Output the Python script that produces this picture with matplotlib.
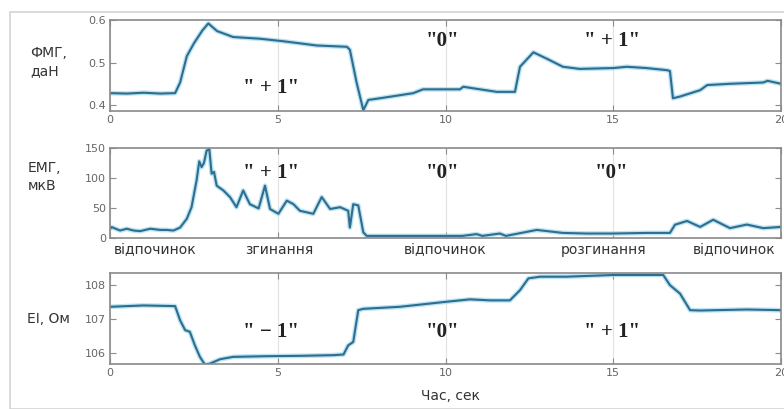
import numpy as np
import matplotlib.pyplot as plt
from matplotlib.patches import Rectangle

# %% дані
t_fmg = [0, 0.5, 1.0, 1.5, 1.94, 2.09, 2.29, 2.5, 2.75, 2.93, 3.19, 3.67, 4.47, 5.17, 6.17,
         7.06, 7.15, 7.35, 7.55, 7.7, 8.05, 9.04, 9.33, 10.43, 10.53, 11.03, 11.53, 12.07,
         12.22, 12.62, 13.02, 13.5, 14.0, 15.0, 15.4, 15.99, 16.6, 16.69, 16.78, 16.99,
         17.59, 17.8, 18.48, 19.47, 19.6, 20.0]
fmg = [0.428, 0.427, 0.429, 0.427, 0.428, 0.453, 0.515, 0.545, 0.575, 0.592, 0.574, 0.56,
       0.556, 0.55, 0.54, 0.537, 0.53, 0.453, 0.388, 0.412, 0.416, 0.428, 0.437, 0.437,
       0.443, 0.437, 0.431, 0.431, 0.49, 0.524, 0.509, 0.49, 0.485, 0.487, 0.49, 0.487,
       0.482, 0.48, 0.416, 0.42, 0.435, 0.447, 0.45, 0.453, 0.457, 0.45]

t_emg = [0, 0.05, 0.3, 0.5, 0.7, 0.9, 1.2, 1.5, 1.69, 1.89, 2.09, 2.29, 2.43, 2.58, 2.66,
         2.73, 2.8, 2.88, 2.96, 3.03, 3.1, 3.18, 3.38, 3.58, 3.77, 3.97, 4.17, 4.43, 4.62,
         4.77, 5.02, 5.27, 5.47, 5.66, 6.06, 6.31, 6.56, 6.86, 7.1, 7.15, 7.25, 7.4, 7.55,
         7.65, 8.5, 9.5, 10.5, 10.93, 11.1, 11.62, 11.8, 12.72, 13.5, 14.2, 15.0, 16.0,
         16.69, 16.84, 17.2, 17.59, 17.98, 18.48, 18.98, 19.47, 20.0]
emg = [15, 17.7, 12, 15, 12, 11, 15, 13, 13, 12, 17, 31.7, 51, 95.5, 127.7, 118, 125, 145.5,
       148, 107, 110, 87, 79, 67.7, 51, 79, 56, 49, 87, 48, 40, 62, 56, 45, 40, 68, 48, 51,
       45, 17, 56, 54, 9, 3, 3, 3, 3, 6, 3, 7, 3, 13, 8, 7, 7, 8, 8, 21.7, 28, 18, 30, 16,
       22, 16, 18]

t_ei = [0, 1.0, 1.94, 2.09, 2.24, 2.38, 2.53, 2.68, 2.83, 2.98, 3.28, 3.67, 4.67, 5.66,
        6.66, 6.96, 7.1, 7.25, 7.4, 7.55, 8.64, 10.04, 10.73, 11.33, 11.92, 12.22, 12.47,
        12.82, 13.6, 15.0, 16.0, 16.49, 16.69, 16.99, 17.29, 17.59, 18.98, 20.0]
ei = [107.36, 107.4, 107.38, 106.96, 106.67, 106.62, 106.22, 105.88, 105.65, 105.68, 105.81,
      105.88, 105.9, 105.91, 105.93, 105.95, 106.22, 106.32, 107.26, 107.3, 107.36, 107.51,
      107.58, 107.55, 107.55, 107.85, 108.2, 108.25, 108.25, 108.3, 108.3, 108.3, 108.0,
      107.75, 107.26, 107.25, 107.28, 107.26]

xticks = [0, 5, 10, 15, 20]
phases = ["відпочинок", "згинання", "відпочинок", "розгинання", "відпочинок"]
phase_x = [1.35, 5.05, 10.0, 14.7, 18.6]
marks_fmg = ['" + 1"', '"0"', '" + 1"']
marks_emg = ['" + 1"', '"0"', '"0"']
marks_ei = ['" − 1"', '"0"', '" + 1"']
marks_x = [4.8, 9.9, 14.95]

# %% рисунок
W, H = 784, 409
fig = plt.figure(figsize=(W / 100, H / 100), dpi=100)
fig.patches.append(Rectangle((9.5 / W, 0), 1, 1 - 12 / H, transform=fig.transFigure,
                             fill=False, edgecolor="#d4d4d4", lw=1.2))

left, right = 110 / W, 781 / W


def make_ax(top_px, bot_px):
    ax = fig.add_axes([left, 1 - bot_px / H, right - left, (bot_px - top_px) / H])
    ax.set_xlim(0, 20)
    ax.set_xticks(xticks)
    for s in ax.spines.values():
        s.set_color("#8a8a8a")
        s.set_linewidth(1.2)
    ax.tick_params(direction="in", top=True, right=True, length=4, color="#8a8a8a",
                   labelsize=8, labelcolor="#666666", pad=3)
    ax.grid(axis="x", color="#e2e2e2", lw=0.8)
    return ax


def draw(ax, t, v):
    ax.plot(t, v, color="#a9dcf0", lw=3.4, alpha=0.8, solid_joinstyle="round")
    ax.plot(t, v, color="#2f6d8e", lw=1.5)


serif = dict(family="Liberation Serif", fontweight="bold", fontsize=15, ha="center",
             va="center", color="#222222")
lab = dict(family="DejaVu Sans", fontsize=10, color="#333333")

ax1 = make_ax(20, 111)
draw(ax1, t_fmg, fmg)
ax1.set_ylim(0.386, 0.6)
ax1.set_yticks([0.4, 0.5, 0.6])
ax1.set_yticklabels(["0.4", "0.5", "0.6"])
for x, y, s in zip(marks_x, [0.44, 0.55, 0.55], marks_fmg):
    ax1.text(x, y, s, **serif)

ax2 = make_ax(148, 238.3)
draw(ax2, t_emg, emg)
ax2.set_ylim(-1, 150)
ax2.set_yticks([0, 50, 100, 150])
ax2.set_xticklabels([])
for x, s in zip(marks_x, marks_emg):
    ax2.text(x, 109, s, **serif)

ax3 = make_ax(273.3, 364.3)
draw(ax3, t_ei, ei)
ax3.set_ylim(105.66, 108.35)
ax3.set_yticks([106, 107, 108])
for x, s in zip(marks_x, marks_ei):
    ax3.text(x, 106.62, s, **serif)

for x, s in zip(phase_x, phases):
    ax2.text(x, -20, s, ha="center", va="center", **lab)

fig.text(30 / W, 1 - 62 / H, "ФМГ,\nдаН", va="center", ha="left", linespacing=1.35, **lab)
fig.text(28 / W, 1 - 177 / H, "ЕМГ,\nмкВ", va="center", ha="left", linespacing=1.35, **lab)
fig.text(27 / W, 1 - 319 / H, "ЕІ, Ом", va="center", ha="left", **lab)
fig.text(450 / W, 1 - 396 / H, "Час, сек", va="center", ha="center", **lab)

fig.savefig("out.png", dpi=100)
